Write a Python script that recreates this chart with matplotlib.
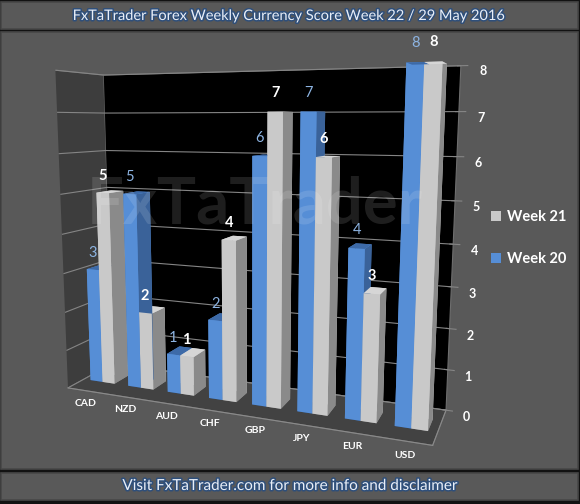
import numpy as np
import matplotlib.pyplot as plt
from matplotlib.patches import Rectangle, Patch
import matplotlib.patheffects as pe

categories = ['CAD', 'NZD', 'AUD', 'CHF', 'GBP', 'JPY', 'EUR', 'USD']
week20 = [3, 5, 1, 2, 6, 7, 4, 8]
week21 = [5, 2, 1, 4, 7, 6, 3, 8]
value_ticks = [0, 1, 2, 3, 4, 5, 6, 7, 8]

plt.rcParams['font.family'] = ['Lato', 'DejaVu Sans']
plt.rcParams['font.weight'] = 'bold'

W, H = 580, 504
fig = plt.figure(figsize=(5.8, 5.04), dpi=100, facecolor='#121212')


def panel(top, bottom):
    fig.patches.append(Rectangle((1 / W, 1 - bottom / H), 577 / W, (bottom - top) / H,
                                 transform=fig.transFigure, facecolor='#595959',
                                 edgecolor='#474747', lw=1.2, zorder=-10))


panel(2, 29)
panel(32, 469)
panel(473, 500)

glow = [pe.withStroke(linewidth=2.2, foreground='#2f4f7a')]
fig.text(0.5, 1 - 16 / H, 'FxTaTrader Forex Weekly Currency Score Week 22 / 29 May 2016',
         ha='center', va='center', color='#e8eef7', fontsize=10.5, fontweight='normal',
         path_effects=glow)
fig.text(0.5, 1 - 486 / H, 'Visit FxTaTrader.com for more info and disclaimer',
         ha='center', va='center', color='#e8eef7', fontsize=11, fontweight='normal',
         path_effects=glow)

# 3d chart
ax = fig.add_axes([-0.02, 0.084, 0.88, 0.86], projection='3d')
ax.set_facecolor('none')
ax.set_proj_type('persp', focal_length=0.32)
ax.view_init(elev=9, azim=-68)
ax.set_box_aspect((10.5, 2.4, 9.1), zoom=1.16)

n = len(categories)
w = 0.32
d = 0.32
idx = np.arange(n)
xs = np.concatenate([idx - w, idx])
ys = np.full(2 * n, 0.5 - d / 2)
zs = np.zeros(2 * n)
heights = np.array(week20 + week21, dtype=float)

# faces: -z, +z, -y, +y, -x, +x
blue_faces = ['#2e4f7e', '#3d6aa8', '#568ed6', '#568ed6', '#568ed6', '#3a6299']
gray_faces = ['#8c8c8c', '#d6d6d6', '#c9c9c9', '#c9c9c9', '#c9c9c9', '#8a8a8a']
colors = blue_faces * n + gray_faces * n
ax.bar3d(xs, ys, zs, np.full(2 * n, w), np.full(2 * n, d), heights,
         color=colors, shade=False, edgecolor='none', linewidth=0)

for i in range(n):
    ax.text(i - w / 2, 0.5 - d / 2, week20[i] + 0.25, str(week20[i]), color='#8db4e2',
            fontsize=10.5, fontweight='normal', ha='center', va='bottom', zorder=20)
    ax.text(i + w / 2, 0.5 - d / 2, week21[i] + 0.25, str(week21[i]), color='white',
            fontsize=10.5, ha='center', va='bottom', zorder=20)

ax.set_xlim(-0.5, n - 0.5)
ax.set_ylim(0, 1)
ax.set_zlim(0, 8)

ax.xaxis.set_pane_color('#3d3d3d')
ax.yaxis.set_pane_color('#000000')
ax.zaxis.set_pane_color('#424242')
for a in (ax.xaxis, ax.yaxis, ax.zaxis):
    a.pane.set_edgecolor('#6e6e6e')
    a.pane.set_linewidth(0.8)

ax.grid(True)
ax.xaxis._axinfo['grid'].update(color=(0, 0, 0, 0), linewidth=0)
ax.yaxis._axinfo['grid'].update(color=(0, 0, 0, 0), linewidth=0)
ax.zaxis._axinfo['grid'].update(color='#858585', linewidth=0.8)

ax.set_xticks(idx, categories)
ax.set_yticks([])
ax.set_zticks(value_ticks)
ax.zaxis.set_ticks_position('upper')
ax.tick_params(axis='x', colors='white', labelsize=7.5, pad=-4)
ax.tick_params(axis='z', colors='#858585', labelcolor='white', labelsize=9, pad=0)
ax.xaxis.line.set_color('#8a8a8a')
ax.yaxis.line.set_color('#8a8a8a')
ax.zaxis.line.set_color((0, 0, 0, 0))
ax.xaxis._axinfo['tick'].update(inward_factor=0, outward_factor=0)

# watermark
fig.text(255 / W, 1 - 205 / H, 'FxTaTrader', color='white', alpha=0.12, fontsize=47,
         ha='center', va='center', zorder=30)

handles = [Patch(facecolor='#c9c9c9', label='Week 21'), Patch(facecolor='#568ed6', label='Week 20')]
fig.legend(handles=handles, loc='center left', bbox_to_anchor=(478 / W, 1 - 238 / H),
           frameon=False, handlelength=0.7, handleheight=0.7, handletextpad=0.4,
           labelspacing=1.9, labelcolor='white', prop={'size': 10.5, 'weight': 'bold'})

fig.savefig('out.png', dpi=100, facecolor=fig.get_facecolor())
